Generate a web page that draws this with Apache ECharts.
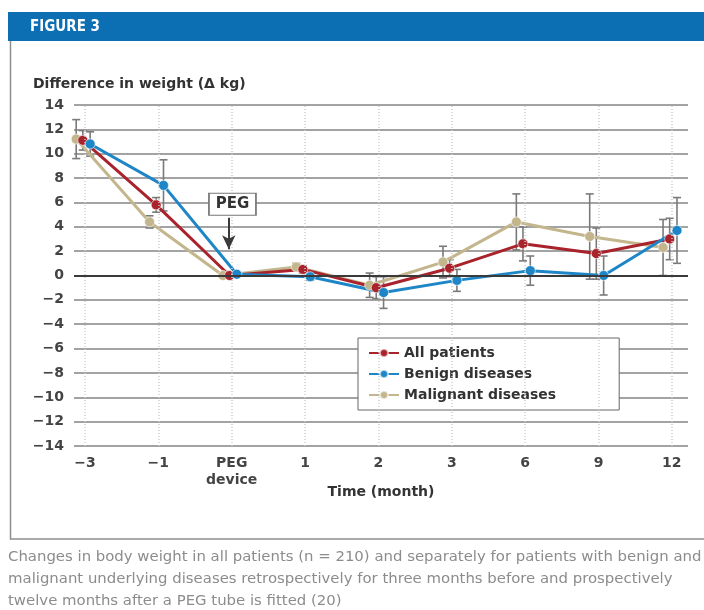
<!DOCTYPE html>
<html>
<head>
<meta charset="utf-8">
<script src="https://cdn.jsdelivr.net/npm/echarts@6/dist/echarts.min.js"></script>
<style>
  html, body { margin: 0; padding: 0; background: #fff; }
  #chart { width: 704px; height: 610px; }
</style>
</head>
<body>
<div id="chart"></div>
<script>
// Time points (months relative to PEG placement)
const categories = ['−3', '−1', 'PEG\ndevice', '1', '2', '3', '6', '9', '12'];

// Mean change in body weight (kg)
const allPatients = [11.1, 5.8, 0.0, 0.5, -1.0, 0.6, 2.6, 1.8, 3.0];
const benign      = [10.8, 7.4, 0.1, -0.1, -1.4, -0.4, 0.4, 0.0, 3.7];
const malignant   = [11.2, 4.4, 0.0, 0.7, -0.8, 1.1, 4.4, 3.2, 2.3];

// Half-width of the error bars (kg)
const allErr       = [0.8, 0.6, 0.0, 0.3, 0.9, 0.7, 1.4, 2.1, 1.7];
const benignErr    = [1.0, 2.1, 0.0, 0.3, 1.3, 0.9, 1.2, 1.6, 2.7];
const malignantErr = [1.6, 0.5, 0.0, 0.3, 1.0, 1.3, 2.3, 3.5, 2.3];

const groups = [
  { name: 'Malignant diseases', values: malignant, err: malignantErr, color: '#c4b68c', dodge: -0.12 },
  { name: 'All patients',       values: allPatients, err: allErr,     color: '#a8232b', dodge: -0.03 },
  { name: 'Benign diseases',    values: benign,    err: benignErr,    color: '#1e86c6', dodge: 0.07 }
];

const FONT = '"DejaVu Sans", "Liberation Sans", Arial, sans-serif';
const chart = echarts.init(document.getElementById('chart'));

function errorSeries(g) {
  const data = g.values.map((v, i) => [i + g.dodge, v - g.err[i], v + g.err[i]]);
  return {
    type: 'custom',
    silent: true,
    z: 1,
    data: data,
    encode: { x: 0, y: [1, 2] },
    renderItem: function (params, api) {
      if (api.value(2) - api.value(1) < 0.05) return null;
      const top = api.coord([api.value(0), api.value(2)]);
      const bot = api.coord([api.value(0), api.value(1)]);
      const w = 4;
      const style = { stroke: '#7a7a7a', lineWidth: 1.6 };
      return {
        type: 'group',
        children: [
          { type: 'line', shape: { x1: top[0], y1: top[1], x2: bot[0], y2: bot[1] }, style: style },
          { type: 'line', shape: { x1: top[0] - w, y1: top[1], x2: top[0] + w, y2: top[1] }, style: style },
          { type: 'line', shape: { x1: bot[0] - w, y1: bot[1], x2: bot[0] + w, y2: bot[1] }, style: style }
        ]
      };
    }
  };
}

function lineSeries(g) {
  return {
    name: g.name,
    type: 'line',
    z: 3,
    data: g.values.map((v, i) => [i + g.dodge, v]),
    symbol: 'circle',
    symbolSize: 10,
    itemStyle: { color: g.color, borderColor: 'rgba(255,255,255,0.6)', borderWidth: 1 },
    lineStyle: { color: g.color, width: 3 },
    emphasis: { disabled: true },
    animation: false
  };
}

// Guides: dotted verticals at each time point, the zero line and the PEG arrow
const guideSeries = {
  type: 'line',
  data: [],
  silent: true,
  z: 2,
  markLine: {
    silent: true,
    animation: false,
    symbol: 'none',
    label: { show: false },
    data: categories.map((c, i) => ({
      xAxis: i,
      lineStyle: { color: '#cdcdcd', type: [1, 2], width: 1.5 }
    })).concat([
      { yAxis: 0, lineStyle: { color: '#3a3a3a', type: 'solid', width: 2 } },
      [
        { coord: [1.96, 4.75], symbol: 'none', lineStyle: { color: '#3a3a3a', type: 'solid', width: 2 } },
        { coord: [1.96, 2.15], symbol: 'arrow', symbolSize: [10, 14] }
      ]
    ])
  },
  markPoint: {
    silent: true,
    animation: false,
    data: [{
      coord: [2.01, 5.85],
      symbol: 'rect',
      symbolSize: [47, 22],
      itemStyle: { color: '#ffffff', borderColor: '#777', borderWidth: 1.2 },
      label: { show: true, formatter: 'PEG', color: '#333', fontFamily: FONT, fontWeight: 'bold', fontSize: 15 }
    }]
  }
};

const captionLines = [
  'Changes in body weight in all patients (n = 210) and separately for patients with benign and',
  'malignant underlying diseases retrospectively for three months before and prospectively',
  'twelve months after a PEG tube is fitted (20)'
];

const option = {
  animation: false,
  backgroundColor: '#ffffff',
  textStyle: { fontFamily: FONT },
  grid: { left: 74, right: 16, top: 105, bottom: 164 },
  xAxis: {
    type: 'value',
    min: -0.15,
    max: 8.22,
    axisLine: { show: false },
    axisTick: { show: false },
    splitLine: { show: false },
    axisLabel: {
      customValues: categories.map((c, i) => i),
      formatter: v => categories[Math.round(v)],
      color: '#444',
      fontWeight: 'bold',
      fontSize: 14,
      lineHeight: 17,
      margin: 9,
      verticalAlign: 'top'
    },
    name: 'Time (month)',
    nameLocation: 'middle',
    nameMoveOverlap: false,
    nameGap: 39,
    nameTextStyle: { color: '#333', fontWeight: 'bold', fontSize: 14 }
  },
  yAxis: {
    type: 'value',
    min: -14,
    max: 14,
    interval: 2,
    axisLine: { show: false },
    axisTick: { show: false },
    splitLine: { lineStyle: { color: '#858585', width: 1.6 } },
    axisLabel: {
      formatter: v => String(v).replace('-', '−'),
      color: '#444',
      fontWeight: 'bold',
      fontSize: 14,
      margin: 10
    },
    name: 'Difference in weight (Δ kg)',
    nameLocation: 'end',
    nameGap: 14,
    nameTextStyle: { color: '#333', fontWeight: 'bold', fontSize: 14, align: 'left', padding: [0, 0, 0, -52] }
  },
  legend: {
    data: ['All patients', 'Benign diseases', 'Malignant diseases'],
    orient: 'vertical',
    left: 358,
    top: 338,
    backgroundColor: '#ffffff',
    borderColor: '#666',
    borderWidth: 1,
    padding: [8, 63, 8, 10],
    itemGap: 7,
    itemWidth: 30,
    itemHeight: 10,
    selectedMode: false,
    textStyle: { color: '#333', fontWeight: 'bold', fontSize: 14, fontFamily: FONT }
  },
  graphic: [
    { type: 'rect', left: 8, top: 12, shape: { width: 696, height: 29 }, style: { fill: '#0c6fb4' }, silent: true },
    { type: 'text', left: 30, top: 20, style: { text: 'FIGURE 3', fill: '#ffffff', font: 'bold 15px "Liberation Sans Narrow", "DejaVu Sans Condensed", ' + FONT }, silent: true },
    { type: 'polyline', shape: { points: [[10.5, 41], [10.5, 539], [710, 539]] }, style: { stroke: '#8f8f8f', lineWidth: 1.5, fill: null }, silent: true },
    { type: 'text', left: 8, top: 546, style: { text: captionLines.join('\n'), fill: '#8c8c8c', font: '14.9px ' + FONT, lineHeight: 22 }, silent: true }
  ],
  series: [
    guideSeries,
    ...groups.map(errorSeries),
    ...groups.map(lineSeries)
  ]
};

chart.setOption(option);
</script>
</body>
</html>
